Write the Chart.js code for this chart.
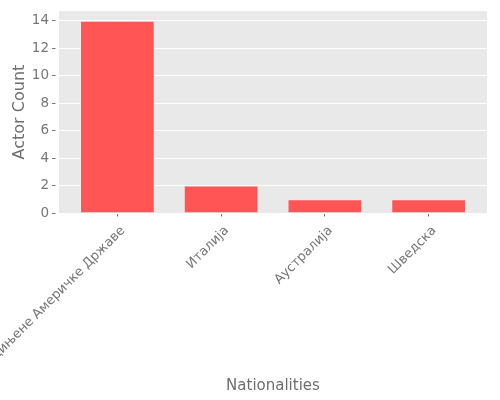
<!DOCTYPE html>
<html>
<head>
<meta charset="utf-8">
<script src="https://cdn.jsdelivr.net/npm/chart.js@4"></script>
<style>
  body { margin: 0; background: #fff; }
  #wrap { width: 500px; height: 400px; }
</style>
</head>
<body>
<div id="wrap"><canvas id="actors-chart" width="500" height="400"></canvas></div>
<script>
// data
var nationalities = ['Сједињене Америчке Државе', 'Италија', 'Аустралија', 'Шведска'];
var actorCounts = [14, 2, 1, 1];
var yTicks = [0, 2, 4, 6, 8, 10, 12, 14];

var textGrey = '#777777';
var titleGrey = '#6e6e6e';
var fontFamily = '"DejaVu Sans", sans-serif';

// grey panel behind the plot, ggplot style
var panelBg = {
    id: 'panelBg',
    beforeDraw: function(chart) {
        var a = chart.chartArea;
        var ctx = chart.ctx;
        ctx.save();
        ctx.fillStyle = '#E9E9E9';
        ctx.fillRect(a.left, a.top, a.right - a.left, a.bottom - a.top);
        ctx.restore();
    }
};

// x labels turned 45 degrees, anchored at their top right corner
var tiltedLabels = {
    id: 'tiltedLabels',
    afterDraw: function(chart) {
        var ctx = chart.ctx;
        var x = chart.scales.x;
        ctx.save();
        ctx.font = '13px ' + fontFamily;
        ctx.fillStyle = textGrey;
        ctx.textAlign = 'right';
        ctx.textBaseline = 'top';
        nationalities.forEach(function(name, i) {
            ctx.save();
            ctx.translate(x.getPixelForValue(i) + 1, x.top + 11);
            ctx.rotate(-Math.PI / 4);
            ctx.fillText(name, 0, 0);
            ctx.restore();
        });
        ctx.restore();
    }
};

var ctx = document.getElementById('actors-chart').getContext('2d');
var actorsChart = new Chart(ctx, {
    type: 'bar',
    data: {
        datasets: [{
            label: 'Actor Count',
            data: actorCounts.map(function(v, i) { return {x: i, y: v}; }),
            backgroundColor: '#FF5555',
            borderColor: 'rgba(238,238,238,0.5)',
            borderWidth: 1,
            barPercentage: 0.72,
            categoryPercentage: 1
        }]
    },
    options: {
        responsive: false,
        animation: false,
        layout: { padding: { left: 7, top: 10, right: 13, bottom: 0 } },
        plugins: {
            legend: { display: false },
            tooltip: { enabled: false }
        },
        scales: {
            x: {
                type: 'linear',
                offset: false,
                min: -0.5625,
                max: 3.5625,
                afterBuildTicks: function(s) {
                    s.ticks = nationalities.map(function(n, i) { return {value: i}; });
                },
                afterFit: function(s) { s.height = 187; },
                ticks: { display: false },
                border: { display: false },
                grid: {
                    offset: false,
                    drawOnChartArea: false,
                    drawTicks: true,
                    tickLength: 7,
                    tickColor: textGrey,
                    tickBorderDash: [3.5, 3.5]
                },
                title: {
                    display: true,
                    text: 'Nationalities',
                    color: titleGrey,
                    font: { family: fontFamily, size: 15 },
                    padding: { top: 0, bottom: 5 }
                }
            },
            y: {
                min: 0,
                max: 14.7,
                afterBuildTicks: function(s) {
                    s.ticks = yTicks.map(function(v) { return {value: v}; });
                },
                afterFit: function(s) { s.width = 52; },
                ticks: {
                    color: textGrey,
                    padding: 3,
                    font: { family: fontFamily, size: 13.5 }
                },
                border: { display: false },
                grid: {
                    color: '#FFFFFF',
                    lineWidth: 1,
                    tickLength: 7,
                    tickColor: textGrey,
                    tickBorderDash: [3.5, 3.5]
                },
                title: {
                    display: true,
                    text: 'Actor Count',
                    color: titleGrey,
                    font: { family: fontFamily, size: 16 },
                    padding: { top: 3, bottom: 4 }
                }
            }
        }
    },
    plugins: [panelBg, tiltedLabels]
});
</script>
</body>
</html>
